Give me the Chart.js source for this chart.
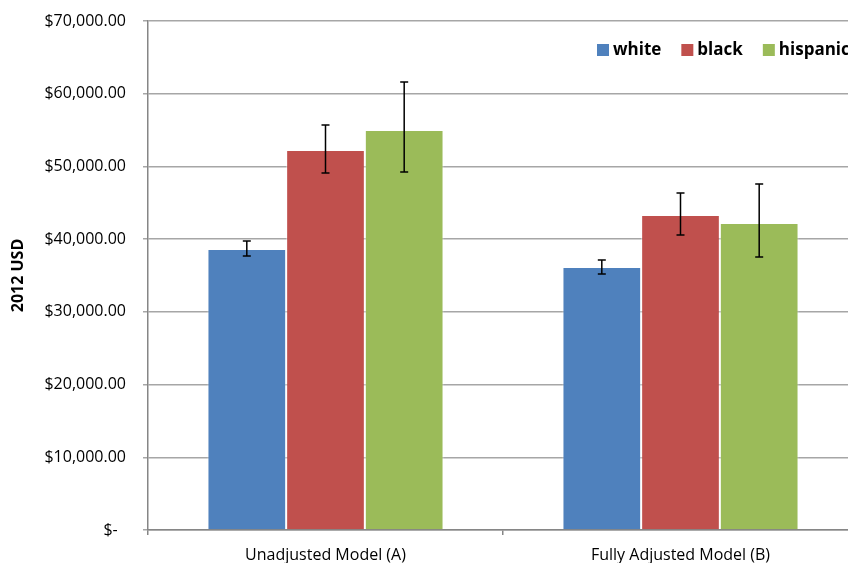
<!DOCTYPE html>
<html lang="en">
<head>
    <meta charset="UTF-8">
    <title>2012 USD by Model</title>
    <script src="https://cdn.jsdelivr.net/npm/chart.js"></script>
    <style>
        html, body { margin: 0; padding: 0; background: #fff; overflow: hidden; }
        #wrap { width: 848px; height: 563px; overflow: hidden; }
    </style>
</head>
<body>
    <div id="wrap">
        <canvas id="myChart" width="870" height="563"></canvas>
    </div>

    <script>
        'use strict';
        // data
        var models = ['Unadjusted Model (A)', 'Fully Adjusted Model (B)'];
        var groups = ['white', 'black', 'hispanic'];
        var whiteVals = [38650, 36180];
        var blackVals = [52270, 43330];
        var hispanicVals = [55020, 42230];
        var whiteErrLow = [37690, 35210];
        var whiteErrHigh = [39750, 37140];
        var blackErrLow = [49100, 40580];
        var blackErrHigh = [55700, 46350];
        var hispanicErrLow = [49240, 37550];
        var hispanicErrHigh = [61620, 47590];
        var yTicks = [0, 10000, 20000, 30000, 40000, 50000, 60000, 70000];

        var colors = ['#4F81BD', '#C0504D', '#9BBB59'];
        var errLow = [whiteErrLow, blackErrLow, hispanicErrLow];
        var errHigh = [whiteErrHigh, blackErrHigh, hispanicErrHigh];
        var FONT = '"Open Sans", "Liberation Sans", Arial, sans-serif';

        function money(v) {
            if (v === 0) return '$-  ';
            return '$' + v.toLocaleString('en-US', {minimumFractionDigits: 2, maximumFractionDigits: 2});
        }

        // error bars drawn on top of the bars
        var errorBars = {
            id: 'errorBars',
            afterDatasetsDraw: function(chart) {
                var ctx = chart.ctx;
                var y = chart.scales.y;
                ctx.save();
                ctx.strokeStyle = '#000';
                ctx.lineWidth = 1.5;
                chart.data.datasets.forEach(function(ds, i) {
                    var meta = chart.getDatasetMeta(i);
                    meta.data.forEach(function(bar, j) {
                        var top = y.getPixelForValue(errHigh[i][j]);
                        var bot = y.getPixelForValue(errLow[i][j]);
                        ctx.beginPath();
                        ctx.moveTo(bar.x, top);
                        ctx.lineTo(bar.x, bot);
                        ctx.moveTo(bar.x - 4, top);
                        ctx.lineTo(bar.x + 4, top);
                        ctx.moveTo(bar.x - 4, bot);
                        ctx.lineTo(bar.x + 4, bot);
                        ctx.stroke();
                    });
                });
                ctx.restore();
            }
        };

        // legend sits inside the plot, top right
        var insideLegend = {
            id: 'insideLegend',
            afterDraw: function(chart) {
                var ctx = chart.ctx;
                ctx.save();
                ctx.font = 'bold 17px ' + FONT;
                ctx.textBaseline = 'middle';
                var x = 597;
                var yMid = 50;
                chart.data.datasets.forEach(function(ds) {
                    ctx.fillStyle = ds.backgroundColor;
                    ctx.fillRect(x, yMid - 6, 12, 12);
                    ctx.fillStyle = '#000';
                    ctx.fillText(ds.label, x + 16, yMid);
                    x += 16 + ctx.measureText(ds.label).width + 20;
                });
                ctx.restore();
            }
        };

        var ctx = document.getElementById('myChart').getContext('2d');
        var myChart = new Chart(ctx, {
            type: 'bar',
            data: {
                labels: models,
                datasets: [
                    { label: groups[0], data: whiteVals, backgroundColor: colors[0] },
                    { label: groups[1], data: blackVals, backgroundColor: colors[1] },
                    { label: groups[2], data: hispanicVals, backgroundColor: colors[2] }
                ].map(function(d) {
                    d.borderColor = 'rgba(255,255,255,0.5)';
                    d.borderWidth = 1;
                    d.categoryPercentage = 0.665;
                    d.barPercentage = 1.0;
                    return d;
                })
            },
            options: {
                responsive: false,
                animation: false,
                layout: { padding: { left: 0, top: 21, right: 12, bottom: 0 } },
                plugins: {
                    legend: { display: false },
                    tooltip: { enabled: false }
                },
                scales: {
                    x: {
                        grid: { offset: true, drawOnChartArea: false, drawTicks: true, tickLength: 5, color: '#868686', lineWidth: 1.5 },
                        border: { color: '#868686', width: 1.5 },
                        ticks: {
                            color: '#000',
                            padding: 11,
                            font: { family: FONT, size: 16 }
                        },
                        afterFit: function(scale) {
                            scale.height = 33;
                            scale.paddingLeft = 0;
                            scale.paddingRight = 0;
                        }
                    },
                    y: {
                        min: 0,
                        max: 70000,
                        afterBuildTicks: function(scale) {
                            scale.ticks = yTicks.map(function(v) { return { value: v }; });
                        },
                        grid: { color: '#a6a6a6', lineWidth: 1.5, tickLength: 5 },
                        border: { color: '#868686', width: 1.5 },
                        ticks: {
                            color: '#000',
                            padding: 17,
                            font: { family: FONT, size: 16 },
                            callback: function(v) { return money(v); }
                        },
                        title: {
                            display: true,
                            text: '2012 USD',
                            color: '#000',
                            padding: { top: 9, bottom: 0 },
                            font: { family: FONT, size: 16, weight: 'bold' }
                        },
                        afterFit: function(scale) {
                            scale.width = 148;
                            scale.paddingTop = 0;
                            scale.paddingBottom = 0;
                        }
                    }
                }
            },
            plugins: [errorBars, insideLegend]
        });
    </script>
</body>
</html>
